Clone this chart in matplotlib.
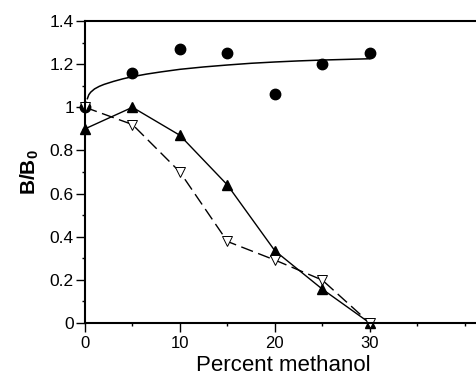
#B/B0 versus percent methanol

import numpy as np
import matplotlib.pyplot as plt
from matplotlib.ticker import MultipleLocator

plt.rcParams['font.family'] = ['Liberation Sans', 'DejaVu Sans']

#data
methanol = [0, 5, 10, 15, 20, 25, 30]
circles = [1.00, 1.16, 1.27, 1.25, 1.06, 1.20, 1.25]
filled_tri = [0.90, 1.00, 0.87, 0.64, 0.335, 0.157, 0.0]
open_tri = [1.00, 0.92, 0.70, 0.378, 0.292, 0.199, 0.0]

#fitted curve through the circles
fit_x = [0.25, 0.4, 0.6, 1, 1.5, 2, 3, 4, 5, 6.5, 8, 10, 12.5, 15, 17.5, 20, 22.5, 25, 27.5, 30]
fit_y = [1.040, 1.058, 1.070, 1.085, 1.097, 1.106, 1.120, 1.132, 1.142, 1.154, 1.164, 1.176,
         1.187, 1.196, 1.204, 1.210, 1.215, 1.219, 1.222, 1.225]

xticks = [0, 10, 20, 30]
xtick_labels = ['0', '10', '20', '30']
yticks = [0, 0.2, 0.4, 0.6, 0.8, 1.0, 1.2, 1.4]
ytick_labels = ['0', '0.2', '0.4', '0.6', '0.8', '1', '1.2', '1.4']

fig = plt.figure(figsize=(4.77, 3.77), dpi=100)
ax = fig.add_axes([85/477, 1 - 323/377, 1 - 85/477 + 0.01, (323 - 21)/377])

ax.plot(fit_x, fit_y, color="black", linewidth=1.1)
ax.plot(methanol, circles, linestyle="none", marker="o", markersize=7.5, color="black", clip_on=False)
ax.plot(methanol, filled_tri, color="black", linewidth=1.0, marker="^", markersize=7, clip_on=False)
ax.plot(methanol, open_tri, color="black", linewidth=1.0, linestyle=(0, (9, 4)), marker="v",
        markersize=7, markerfacecolor="white", markeredgewidth=0.7, clip_on=False)

ax.set_xlim(0, 41.8)
ax.set_ylim(0, 1.4)
ax.spines['right'].set_visible(False)
for s in ['left', 'top', 'bottom']:
    ax.spines[s].set_linewidth(1.5)

ax.set_xticks(xticks, xtick_labels)
ax.set_yticks(yticks, ytick_labels)
ax.xaxis.set_minor_locator(MultipleLocator(5))
ax.yaxis.set_minor_locator(MultipleLocator(0.1))
ax.tick_params(which='major', direction='out', length=6.5, width=1, pad=1.5)
ax.tick_params(axis='x', labelsize=12, pad=2.5)
ax.tick_params(axis='y', labelsize=12.5)
ax.tick_params(which='minor', direction='out', length=2.5, width=1)
ax.tick_params(top=False, right=False)

ax.set_xlabel("Percent methanol", fontsize=16, labelpad=3)
ax.set_ylabel(r"B/B$_\mathregular{0}$", fontsize=15, fontweight="bold", labelpad=6)

plt.savefig("out.png", dpi=100)
